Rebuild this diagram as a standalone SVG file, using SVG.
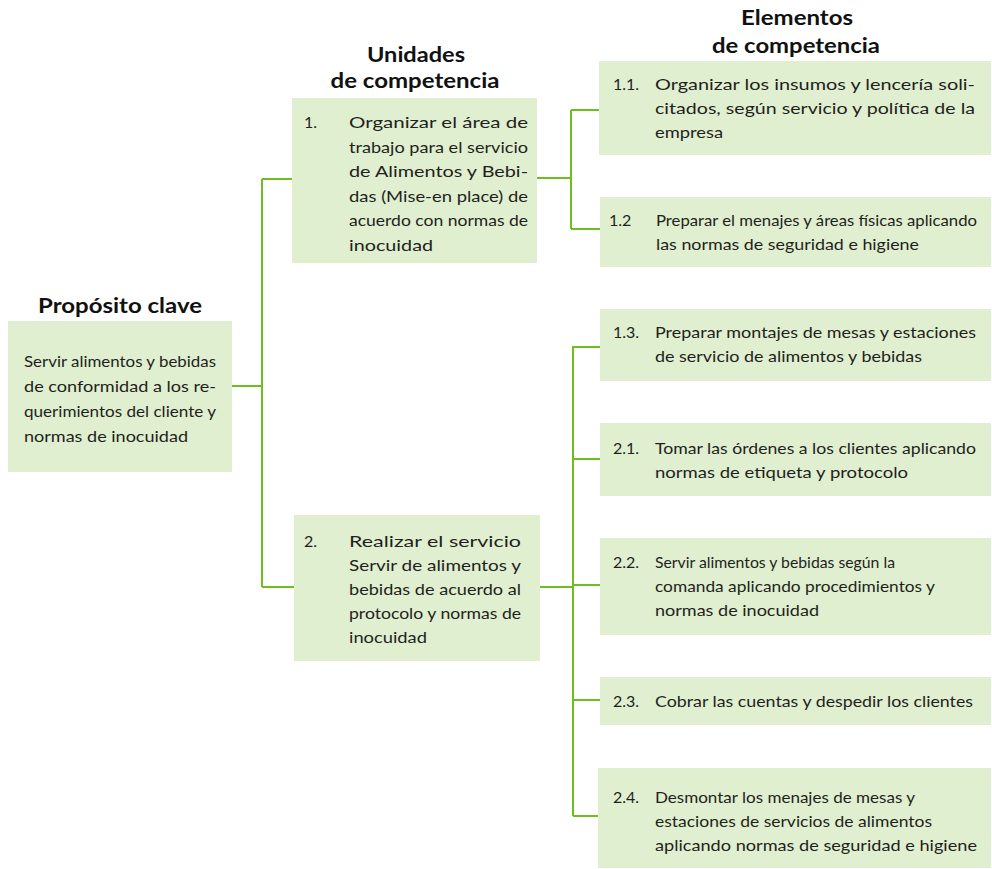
<svg xmlns="http://www.w3.org/2000/svg" width="992" height="869" viewBox="0 0 992 869">
<style>
.box{fill:#e0efd0}
.t{font-family:Lato,"Open Sans","Liberation Sans",sans-serif;font-size:16px;fill:#231f20}
.h{font-family:Lato,"Open Sans","Liberation Sans",sans-serif;font-size:21px;font-weight:bold;fill:#111;text-anchor:middle}
.c{fill:none;stroke:#6fbe21;stroke-width:2}
</style>
<rect width="992" height="869" fill="#fff"/>
<g id="connectors">
<path class="c" d="M232,386H262M262,179V587M262,179H292M262,587H294"/>
<path class="c" d="M537,178H571M571,110V229M571,110H599M571,229H600"/>
<path class="c" d="M540,587H573M573,346V816M573,347H600M573,459H600M573,585H600M573,700H600M573,816H598"/>
</g>
<g id="headers">
<text class="h" x="120" y="313" textLength="164" lengthAdjust="spacingAndGlyphs">Propósito clave</text>
<text class="h" x="416" y="62" textLength="98" lengthAdjust="spacingAndGlyphs">Unidades</text>
<text class="h" x="415" y="88" textLength="169" lengthAdjust="spacingAndGlyphs">de competencia</text>
<text class="h" x="797" y="25" textLength="112" lengthAdjust="spacingAndGlyphs">Elementos</text>
<text class="h" x="796" y="53" textLength="168" lengthAdjust="spacingAndGlyphs">de competencia</text>
</g>
<g id="proposito">
<rect class="box" x="8" y="321" width="224" height="151"/>
<text class="t" x="24" y="367" textLength="192" lengthAdjust="spacingAndGlyphs">Servir alimentos y bebidas</text>
<text class="t" x="24" y="392" textLength="192" lengthAdjust="spacingAndGlyphs">de conformidad a los re-</text>
<text class="t" x="24" y="417" textLength="192" lengthAdjust="spacingAndGlyphs">querimientos del cliente y</text>
<text class="t" x="24" y="442" textLength="164" lengthAdjust="spacingAndGlyphs">normas de inocuidad</text>
</g>
<g id="unidad1">
<rect class="box" x="292" y="98" width="245" height="165"/>
<text class="t" x="304" y="128">1.</text>
<text class="t" x="349" y="128" textLength="179" lengthAdjust="spacingAndGlyphs">Organizar el área de</text>
<text class="t" x="349" y="153" textLength="179" lengthAdjust="spacingAndGlyphs">trabajo para el servicio</text>
<text class="t" x="349" y="177" textLength="179" lengthAdjust="spacingAndGlyphs">de Alimentos y Bebi-</text>
<text class="t" x="349" y="202" textLength="179" lengthAdjust="spacingAndGlyphs">das (Mise-en place) de</text>
<text class="t" x="349" y="226" textLength="179" lengthAdjust="spacingAndGlyphs">acuerdo con normas de</text>
<text class="t" x="349" y="251" textLength="84" lengthAdjust="spacingAndGlyphs">inocuidad</text>
</g>
<g id="unidad2">
<rect class="box" x="294" y="515" width="246" height="146"/>
<text class="t" x="304" y="547">2.</text>
<text class="t" x="349" y="547" textLength="172" lengthAdjust="spacingAndGlyphs">Realizar el servicio</text>
<text class="t" x="349" y="571" textLength="172" lengthAdjust="spacingAndGlyphs">Servir de alimentos y</text>
<text class="t" x="349" y="595" textLength="172" lengthAdjust="spacingAndGlyphs">bebidas de acuerdo al</text>
<text class="t" x="349" y="619" textLength="172" lengthAdjust="spacingAndGlyphs">protocolo y normas de</text>
<text class="t" x="349" y="643" textLength="78" lengthAdjust="spacingAndGlyphs">inocuidad</text>
</g>
<g id="e11">
<rect class="box" x="599" y="61" width="392" height="94"/>
<text class="t" x="613" y="90">1.1.</text>
<text class="t" x="655" y="90" textLength="320" lengthAdjust="spacingAndGlyphs">Organizar los insumos y lencería soli-</text>
<text class="t" x="655" y="114" textLength="320" lengthAdjust="spacingAndGlyphs">citados, según servicio y política de la</text>
<text class="t" x="655" y="138" textLength="68" lengthAdjust="spacingAndGlyphs">empresa</text>
</g>
<g id="e12">
<rect class="box" x="600" y="197" width="391" height="70"/>
<text class="t" x="609" y="226">1.2</text>
<text class="t" x="656" y="226" textLength="321" lengthAdjust="spacingAndGlyphs">Preparar el menajes y áreas físicas aplicando</text>
<text class="t" x="656" y="250" textLength="263" lengthAdjust="spacingAndGlyphs">las normas de seguridad e higiene</text>
</g>
<g id="e13">
<rect class="box" x="600" y="309" width="391" height="72"/>
<text class="t" x="613" y="338">1.3.</text>
<text class="t" x="655" y="338" textLength="321" lengthAdjust="spacingAndGlyphs">Preparar montajes de mesas y estaciones</text>
<text class="t" x="655" y="362" textLength="267" lengthAdjust="spacingAndGlyphs">de servicio de alimentos y bebidas</text>
</g>
<g id="e21">
<rect class="box" x="600" y="423" width="391" height="73"/>
<text class="t" x="613" y="454">2.1.</text>
<text class="t" x="655" y="454" textLength="321" lengthAdjust="spacingAndGlyphs">Tomar las órdenes a los clientes aplicando</text>
<text class="t" x="655" y="478" textLength="253" lengthAdjust="spacingAndGlyphs">normas de etiqueta y protocolo</text>
</g>
<g id="e22">
<rect class="box" x="600" y="538" width="391" height="97"/>
<text class="t" x="613" y="568">2.2.</text>
<text class="t" x="655" y="568" textLength="240" lengthAdjust="spacingAndGlyphs">Servir alimentos y bebidas según la</text>
<text class="t" x="655" y="592" textLength="280" lengthAdjust="spacingAndGlyphs">comanda aplicando procedimientos y</text>
<text class="t" x="655" y="616" textLength="164" lengthAdjust="spacingAndGlyphs">normas de inocuidad</text>
</g>
<g id="e23">
<rect class="box" x="600" y="677" width="391" height="48"/>
<text class="t" x="613" y="707">2.3.</text>
<text class="t" x="655" y="707" textLength="318" lengthAdjust="spacingAndGlyphs">Cobrar las cuentas y despedir los clientes</text>
</g>
<g id="e24">
<rect class="box" x="598" y="768" width="393" height="100"/>
<text class="t" x="613" y="803">2.4.</text>
<text class="t" x="655" y="803" textLength="260" lengthAdjust="spacingAndGlyphs">Desmontar los menajes de mesas y</text>
<text class="t" x="655" y="827" textLength="277" lengthAdjust="spacingAndGlyphs">estaciones de servicios de alimentos</text>
<text class="t" x="655" y="851" textLength="322" lengthAdjust="spacingAndGlyphs">aplicando normas de seguridad e higiene</text>
</g>
</svg>
